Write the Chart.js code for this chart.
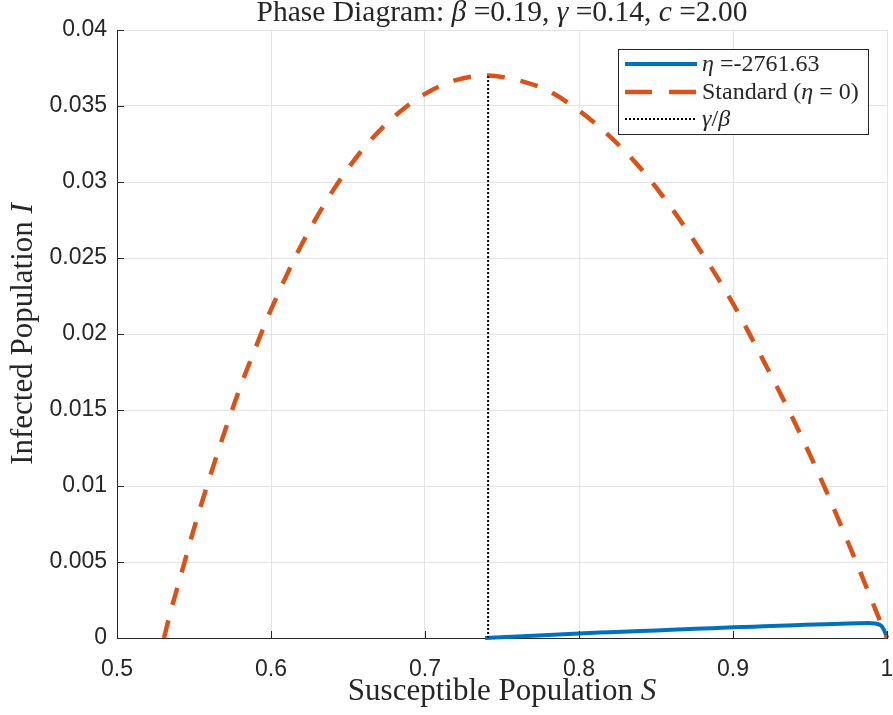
<!DOCTYPE html>
<html lang="en">
<head>
<meta charset="UTF-8">
<title>Phase Diagram</title>
<script src="https://cdn.jsdelivr.net/npm/chart.js"></script>
<style>
  html, body { margin: 0; padding: 0; background: #fff; }
  #wrap { width: 893px; height: 715px; }
</style>
</head>
<body>
<div id="wrap"><canvas id="phase" width="893" height="715"></canvas></div>
<script>
  // values
  const xTicks = [0.5, 0.6, 0.7, 0.8, 0.9, 1];
  const yTicks = [0, 0.005, 0.01, 0.015, 0.02, 0.025, 0.03, 0.035, 0.04];

  // standard SIR trajectory (eta = 0)
  const stdS = [0.5305, 0.535, 0.54, 0.545, 0.55, 0.56, 0.57, 0.58, 0.59, 0.60, 0.62, 0.64, 0.66, 0.68, 0.70,
    0.72, 0.74, 0.76, 0.78, 0.80, 0.82, 0.84, 0.86, 0.88, 0.90, 0.92, 0.94, 0.96, 0.98, 0.99, 1.0];
  const stdI = [0, 0.0018, 0.0036, 0.0054, 0.0072, 0.0105, 0.0136, 0.0165, 0.0191, 0.0216, 0.0259, 0.0294,
    0.0322, 0.0343, 0.0358, 0.0367, 0.0370, 0.0367, 0.0360, 0.0347, 0.0330, 0.0309, 0.0283, 0.0253, 0.0220,
    0.0182, 0.0142, 0.0098, 0.0050, 0.0025, 0];

  // modified trajectory, eta = -2761.63
  const etaS = [0.739, 0.76, 0.78, 0.80, 0.82, 0.84, 0.86, 0.88, 0.90, 0.92, 0.94, 0.96, 0.98, 0.988,
    0.992, 0.995, 0.997, 0.999, 1.0];
  const etaI = [0, 0.0001, 0.0002, 0.0003, 0.00038, 0.00046, 0.00054, 0.00062, 0.0007, 0.00077, 0.00084,
    0.00091, 0.00097, 0.00099, 0.00096, 0.00088, 0.00072, 0.0003, 0];

  // gamma/beta marker
  const ratioS = [0.741, 0.741];
  const ratioI = [0, 0.03695];

  const etaLabel = '-2761.63';

  const serif = '"Liberation Serif", "Times New Roman", serif';
  const sans = '"Liberation Sans", Arial, Helvetica, sans-serif';
  const axisColor = '#262626';

  function toPoints(xs, ys) {
    return xs.map((x, i) => ({ x: x, y: ys[i] }));
  }

  function fmt(v) {
    return String(+Number(v).toFixed(3));
  }

  // draw text made of plain and italic pieces
  function drawRich(ctx, parts, x, y, size, align) {
    const widths = parts.map(p => {
      ctx.font = (p[1] ? 'italic ' : '') + size + 'px ' + serif;
      return ctx.measureText(p[0]).width;
    });
    const total = widths.reduce((a, b) => a + b, 0);
    let cx = align === 'center' ? x - total / 2 : x;
    ctx.textAlign = 'left';
    ctx.textBaseline = 'alphabetic';
    parts.forEach((p, i) => {
      ctx.font = (p[1] ? 'italic ' : '') + size + 'px ' + serif;
      ctx.fillText(p[0], cx, y);
      cx += widths[i];
    });
  }

  const decor = {
    id: 'decor',
    afterDraw(chart) {
      const ctx = chart.ctx;
      const area = chart.chartArea;
      const xs = chart.scales.x, ys = chart.scales.y;
      ctx.save();

      // inward tick marks
      ctx.strokeStyle = axisColor;
      ctx.lineWidth = 1;
      ctx.beginPath();
      xTicks.forEach(v => {
        const px = Math.round(xs.getPixelForValue(v)) + 0.5;
        ctx.moveTo(px, area.bottom);
        ctx.lineTo(px, area.bottom - 7);
      });
      yTicks.forEach(v => {
        const py = Math.round(ys.getPixelForValue(v)) + 0.5;
        ctx.moveTo(area.left, py);
        ctx.lineTo(area.left + 7, py);
      });
      ctx.stroke();

      ctx.fillStyle = '#262626';
      // title
      drawRich(ctx, [['Phase Diagram: ', false], ['β', true], [' =0.19, ', false], ['γ', true],
        [' =0.14, ', false], ['c', true], [' =2.00', false]], (area.left + area.right) / 2, 21, 29.5, 'center');
      // x label
      drawRich(ctx, [['Susceptible Population ', false], ['S', true]], (area.left + area.right) / 2, 700, 31, 'center');
      // y label
      ctx.save();
      ctx.translate(32, (area.top + area.bottom) / 2);
      ctx.rotate(-Math.PI / 2);
      drawRich(ctx, [['Infected Population ', false], ['I', true]], 0, 0, 31, 'center');
      ctx.restore();

      // legend
      const lx = 618.5, ly = 49.5, lw = 250, lh = 85;
      ctx.fillStyle = '#fff';
      ctx.fillRect(lx, ly, lw, lh);
      ctx.strokeStyle = axisColor;
      ctx.lineWidth = 1;
      ctx.strokeRect(lx, ly, lw, lh);

      const rows = [64, 92, 119];
      const x0 = 625, x1 = 697;
      ctx.lineCap = 'butt';
      ctx.strokeStyle = '#0072BD';
      ctx.lineWidth = 4;
      ctx.setLineDash([]);
      ctx.beginPath(); ctx.moveTo(x0, rows[0]); ctx.lineTo(x1, rows[0]); ctx.stroke();
      ctx.strokeStyle = '#D95319';
      ctx.lineWidth = 4.5;
      ctx.setLineDash([27, 17]);
      ctx.beginPath(); ctx.moveTo(x0, rows[1]); ctx.lineTo(x1, rows[1]); ctx.stroke();
      ctx.strokeStyle = '#000';
      ctx.lineWidth = 2;
      ctx.setLineDash([2, 2]);
      ctx.beginPath(); ctx.moveTo(x0, rows[2]); ctx.lineTo(x1, rows[2]); ctx.stroke();
      ctx.setLineDash([]);

      ctx.fillStyle = '#262626';
      const fs = 24;
      drawRich(ctx, [['η', true], [' =' + etaLabel, false]], 702, rows[0] + 7, fs, 'left');
      drawRich(ctx, [['Standard (', false], ['η', true], [' = 0)', false]], 702, rows[1] + 7, fs, 'left');
      drawRich(ctx, [['γ', true], ['/', false], ['β', true]], 702, rows[2] + 7, fs, 'left');

      ctx.restore();
    }
  };

  const ctx = document.getElementById('phase').getContext('2d');
  const chart = new Chart(ctx, {
    type: 'scatter',
    data: {
      datasets: [
        {
          label: 'eta',
          data: toPoints(etaS, etaI),
          showLine: true,
          borderColor: '#0072BD',
          borderWidth: 4,
          pointRadius: 0,
          cubicInterpolationMode: 'monotone',
          clip: false,
          order: 2
        },
        {
          label: 'Standard',
          data: toPoints(stdS, stdI),
          showLine: true,
          borderColor: '#D95319',
          borderWidth: 4.5,
          borderDash: [18, 16],
          pointRadius: 0,
          cubicInterpolationMode: 'monotone',
          clip: false,
          order: 1
        },
        {
          label: 'gamma/beta',
          data: toPoints(ratioS, ratioI),
          showLine: true,
          borderColor: '#000',
          borderWidth: 2,
          borderDash: [2, 2],
          pointRadius: 0,
          clip: false,
          order: 0
        }
      ]
    },
    options: {
      responsive: false,
      animation: false,
      devicePixelRatio: 1,
      layout: { padding: { top: 30, right: 6, left: 0, bottom: 0 } },
      plugins: {
        legend: { display: false },
        title: { display: false },
        tooltip: { enabled: false }
      },
      scales: {
        x: {
          type: 'linear',
          min: 0.5,
          max: 1,
          afterBuildTicks: s => { s.ticks = xTicks.map(v => ({ value: v })); },
          afterFit: s => { s.height = 77; s.paddingLeft = 0; s.paddingRight = 0; },
          grid: { color: '#e3e3e3', drawTicks: false },
          border: { color: axisColor },
          ticks: {
            padding: 18,
            color: axisColor,
            maxRotation: 0,
            font: { family: sans, size: 23 },
            callback: v => fmt(v)
          }
        },
        y: {
          type: 'linear',
          min: 0,
          max: 0.04,
          afterBuildTicks: s => { s.ticks = yTicks.map(v => ({ value: v })); },
          afterFit: s => { s.width = 117; s.paddingTop = 0; s.paddingBottom = 0; },
          grid: { color: '#e3e3e3', drawTicks: false },
          border: { color: axisColor },
          ticks: {
            padding: 10,
            color: axisColor,
            font: { family: sans, size: 23 },
            callback: v => fmt(v)
          }
        }
      }
    },
    plugins: [decor]
  });
</script>
</body>
</html>
